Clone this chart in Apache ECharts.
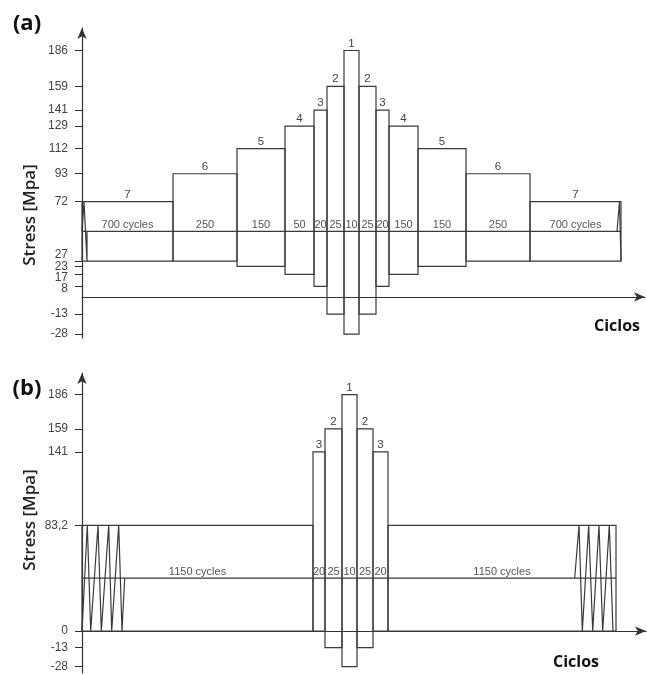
<!DOCTYPE html>
<html><head><meta charset="utf-8">
<script src="https://cdn.jsdelivr.net/npm/echarts@6/dist/echarts.min.js"></script>
<style>html,body{margin:0;padding:0;background:#fff}#c{width:647px;height:675px}</style>
</head><body><div id="c"></div>
<script>
// ---------- Panel (a) ----------
const aBlockNumbers = ['7','6','5','4','3','2','1','2','3','4','5','6','7'];
const aCycleLabels = ['700 cycles','250','150','50','20','25','10','25','20','150','150','250','700 cycles'];
const aBlockSpans = [91,64,48,29,13,17,15,17,13,29,48,64,91];   // schematic block widths (x units)
const aMaxStress = [72,93,112,129,141,159,186,159,141,129,112,93,72];
const aMinStress = [27,27,23,17,8,-13,-28,-13,8,17,23,27,27];
const aMeanStress = 49.5;
const aTicks = [186,159,141,129,112,93,72,27,23,17,8,-13,-28];
const aStartWave = [[0,49.5],[2,72],[5,27],[5,49.5]];
const aEndWave = [[535,49.5],[537.5,72],[539,27]];

// ---------- Panel (b) ----------
const bBlockNumbers = ['','3','2','1','2','3',''];
const bCycleLabels = ['1150 cycles','20','25','10','25','20','1150 cycles'];
const bBlockSpans = [231,12,17,15,16,15,228];
const bMaxStress = [83.2,141,159,186,159,141,83.2];
const bMinStress = [0,0,-13,-28,-13,0,0];
const bMeanStress = 41.6;
const bTicks = [186,159,141,83.2,0,-13,-28];
const bStartWave = [[0,0],[5.3,83.2],[8.7,0],[16,83.2],[19.3,0],[26.7,83.2],[29.7,0],[36.7,83.2],[40,0],[42.7,41.6]];
const bEndWave = [[492.7,41.6],[497,83.2],[500.3,0],[506.7,83.2],[510.7,0],[517,83.2],[520.7,0],[527.3,83.2],[531,0]];

const LINE = '#3a3a3a';
const TXT = '#444';
const TICKFONT = 12;

function buildBlocks(spans, lo, hi) {
  let x = 0;
  return spans.map((w, i) => { const r = [x, x + w, lo[i], hi[i]]; x += w; return r; });
}
function total(spans) { return spans.reduce((s, v) => s + v, 0); }

function blockSeries(g, data, nums, cyc, mean) {
  return {
    type: 'custom', xAxisIndex: g, yAxisIndex: g, data: data, clip: false, silent: true,
    encode: { x: [0, 1], y: [2, 3] },
    renderItem(params, api) {
      const i = params.dataIndex;
      const x0 = api.value(0), x1 = api.value(1), lo = api.value(2), hi = api.value(3);
      const tl = api.coord([x0, hi]), br = api.coord([x1, lo]);
      const cx = (tl[0] + br[0]) / 2;
      const my = api.coord([x0, mean])[1];
      return { type: 'group', children: [
        { type: 'rect', shape: { x: tl[0], y: tl[1], width: br[0] - tl[0], height: br[1] - tl[1] },
          style: { fill: 'none', stroke: LINE, lineWidth: 1.2 } },
        { type: 'text', style: { text: nums[i], x: cx, y: tl[1] - 1, align: 'center', verticalAlign: 'bottom',
          font: '11.5px "Liberation Sans"', fill: TXT } },
        { type: 'text', style: { text: cyc[i], x: cx, y: my - 1, align: 'center', verticalAlign: 'bottom',
          font: '11px "Liberation Sans"', fill: '#555' } }
      ]};
    }
  };
}
function lineSeries(g, data) {
  return { type: 'line', xAxisIndex: g, yAxisIndex: g, data: data, showSymbol: false, symbol: 'none',
    silent: true, lineStyle: { color: LINE, width: 1.2 }, z: 3 };
}

function xAx(g, max) {
  return { gridIndex: g, type: 'value', min: 0, max: max,
    axisLine: { show: true, onZero: true, symbol: ['none', 'arrow'], symbolSize: [7, 11], lineStyle: { color: '#333', width: 1.2 } },
    axisTick: { show: false }, axisLabel: { show: false }, splitLine: { show: false } };
}
function yAx(g, min, max, ticks, fmt) {
  const base = { fontSize: TICKFONT, color: TXT, fontFamily: 'Liberation Sans' };
  return { gridIndex: g, type: 'value', min: min, max: max,
    axisLine: { show: true, onZero: true, symbol: ['none', 'arrow'], symbolSize: [7, 11], lineStyle: { color: '#333', width: 1.2 } },
    axisTick: { show: true, customValues: ticks, length: 7, lineStyle: { color: '#333' } },
    axisLabel: Object.assign({ customValues: ticks, margin: 14, formatter: fmt,
      rich: {
        up: Object.assign({ padding: [0, 0, 12, 0] }, base),
        dn: Object.assign({ padding: [6, 0, 0, 0] }, base),
        dn2: Object.assign({ padding: [4, 0, 0, 0] }, base)
      } }, base),
    splitLine: { show: false } };
}

const aData = buildBlocks(aBlockSpans, aMinStress, aMaxStress);
const bData = buildBlocks(bBlockSpans, bMinStress, bMaxStress);
const aTotal = total(aBlockSpans), bTotal = total(bBlockSpans);

const chart = echarts.init(document.getElementById('c'), null, { renderer: 'canvas' });
chart.setOption({
  animation: false,
  backgroundColor: '#fff',
  grid: [
    { left: 82, right: 2, top: 28, bottom: 337 },
    { left: 82, right: 1, top: 373, bottom: 2 }
  ],
  xAxis: [xAx(0, 563), xAx(1, 564)],
  yAxis: [
    yAx(0, -31, 203, aTicks, v => v === 27 ? '{up|27}' : v === 17 ? '{dn|17}' : v === 8 ? '{dn2|8}' : String(v)),
    yAx(1, -33, 203, bTicks, v => String(v).replace('.', ','))
  ],
  series: [
    blockSeries(0, aData, aBlockNumbers, aCycleLabels, aMeanStress),
    lineSeries(0, [[0, aMeanStress], [aTotal, aMeanStress]]),
    lineSeries(0, aStartWave),
    lineSeries(0, aEndWave),
    blockSeries(1, bData, bBlockNumbers, bCycleLabels, bMeanStress),
    lineSeries(1, [[0, bMeanStress], [bTotal, bMeanStress]]),
    lineSeries(1, bStartWave),
    lineSeries(1, bEndWave)
  ],
  graphic: [
    { type: 'text', x: 27, y: 24, style: { text: '(a)', align: 'center', verticalAlign: 'middle', font: 'bold 22px "Open Sans"', fill: '#111' } },
    { type: 'text', x: 27, y: 389, style: { text: '(b)', align: 'center', verticalAlign: 'middle', font: 'bold 22px "Open Sans"', fill: '#111' } },
    { type: 'text', x: 30, y: 215, rotation: Math.PI / 2, style: { text: 'Stress [Mpa]', align: 'center', verticalAlign: 'middle', font: '600 17px "Open Sans"', fill: '#222' } },
    { type: 'text', x: 30, y: 520, rotation: Math.PI / 2, style: { text: 'Stress [Mpa]', align: 'center', verticalAlign: 'middle', font: '600 17px "Open Sans"', fill: '#222' } },
    { type: 'text', x: 617, y: 326, style: { text: 'Ciclos', align: 'center', verticalAlign: 'middle', font: 'bold 16px "Open Sans"', fill: '#111' } },
    { type: 'text', x: 576, y: 662, style: { text: 'Ciclos', align: 'center', verticalAlign: 'middle', font: 'bold 16px "Open Sans"', fill: '#111' } }
  ]
});
</script></body></html>
